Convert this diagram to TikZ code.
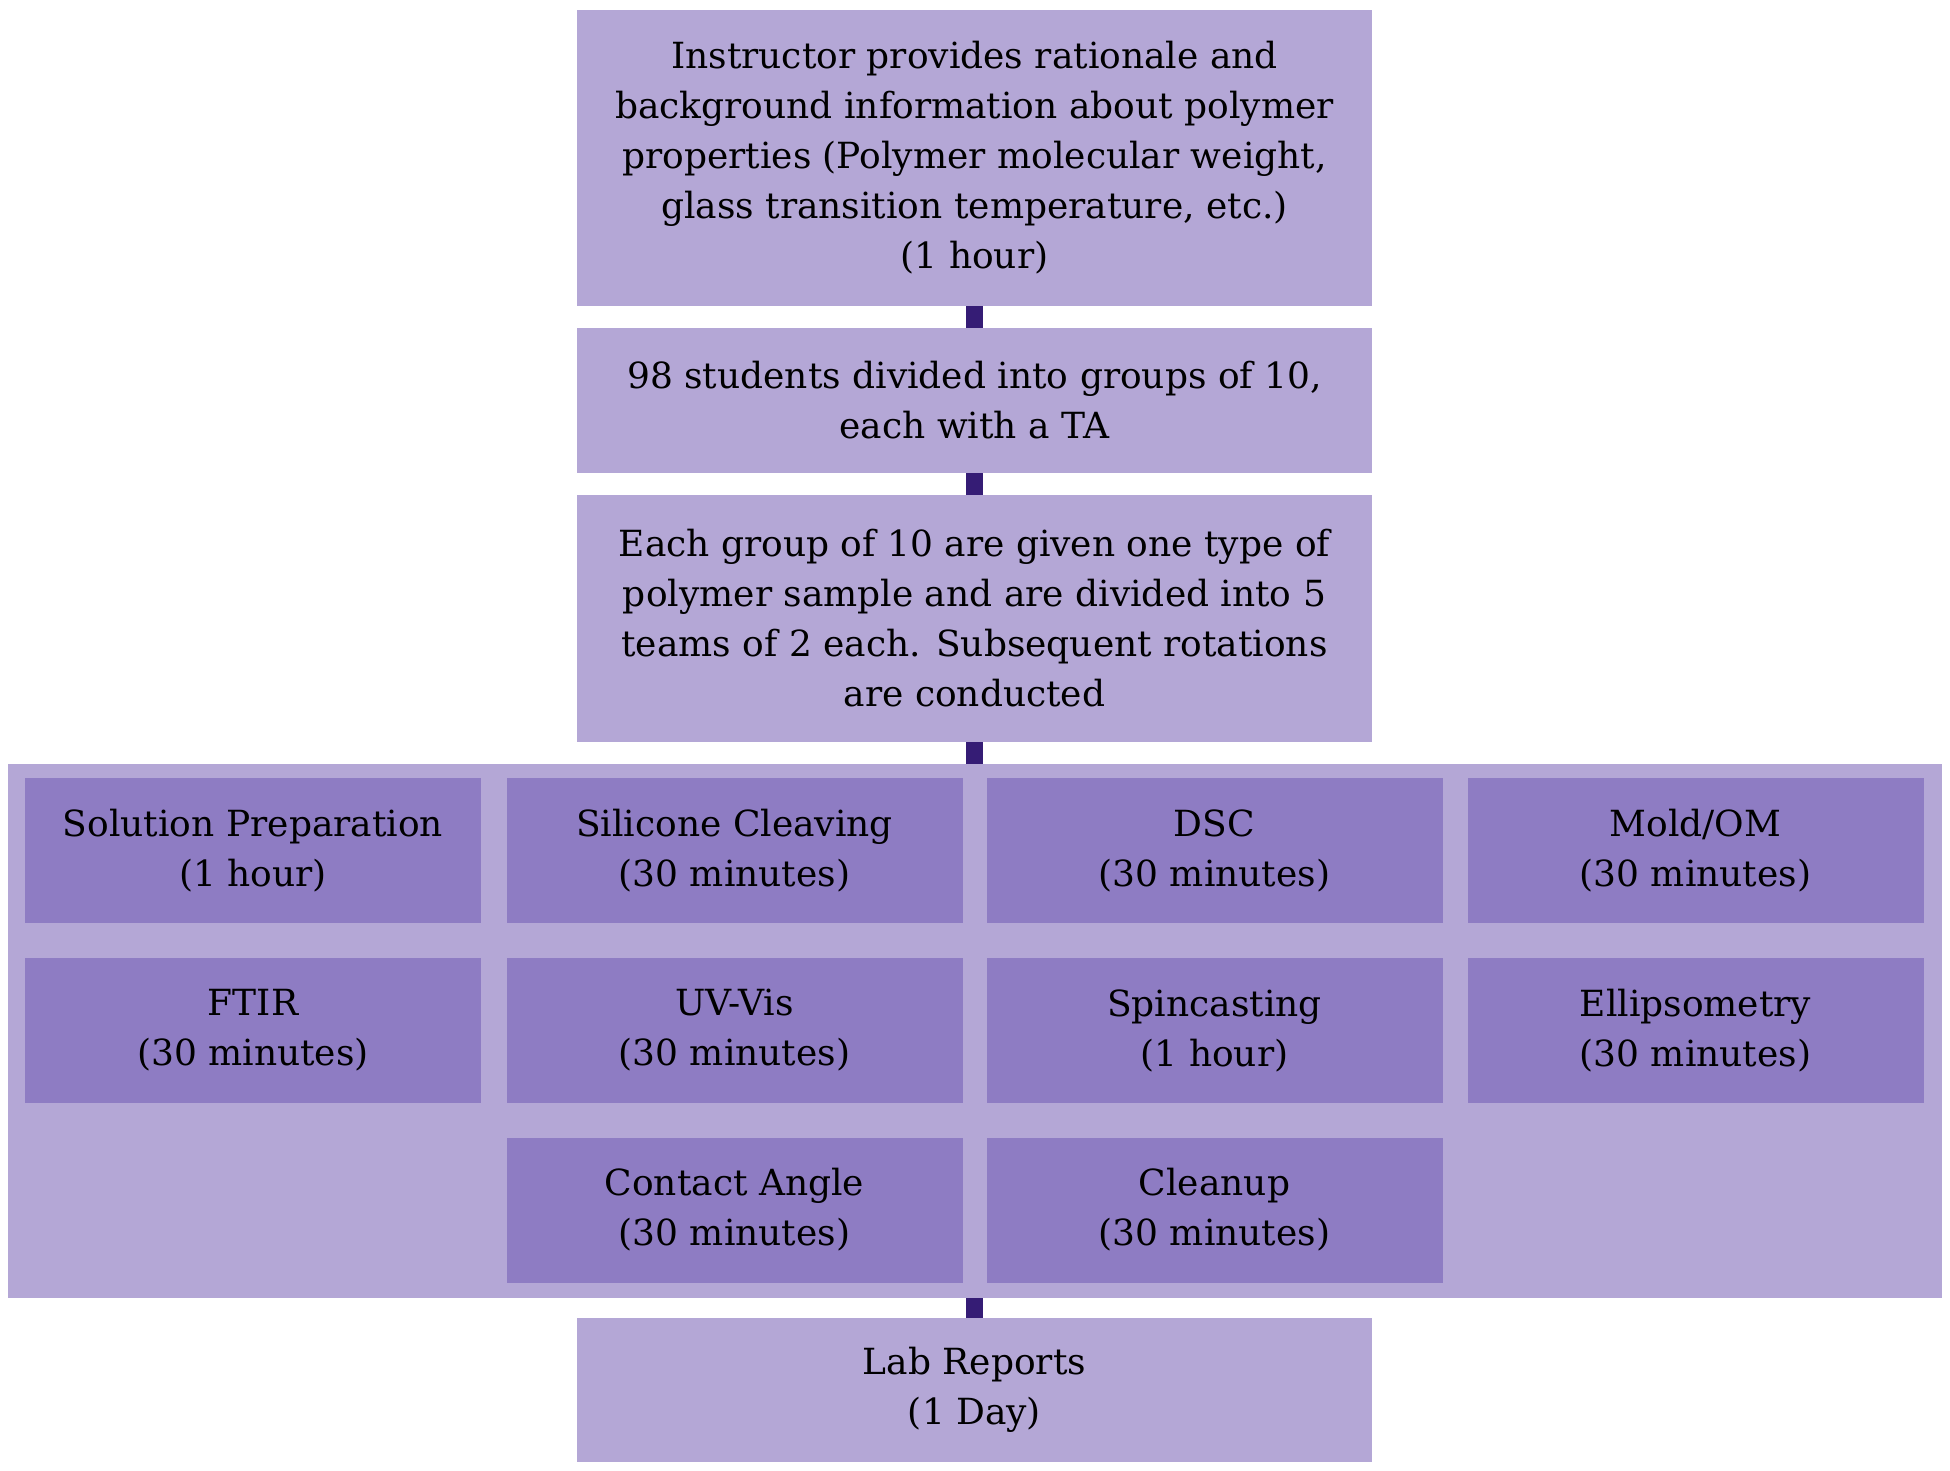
\documentclass[tikz,border=0pt]{standalone}
\usepackage{fontspec}
\setmainfont{DejaVu Serif}
\definecolor{lightp}{HTML}{B4A7D6}
\definecolor{darkp}{HTML}{8E7CC3}
\definecolor{linkp}{HTML}{351C75}
\begin{document}
\begin{tikzpicture}[x=1pt,y=-1pt,
  txt/.style={font=\fontsize{36}{50}\selectfont, align=center, inner sep=0pt, text=black},
  mainbox/.style={txt, fill=lightp, minimum width=795pt, anchor=center},
  cellbox/.style={txt, fill=darkp, minimum width=456pt, minimum height=145pt, anchor=center},
  link/.style={draw=linkp, line width=17pt}]
\useasboundingbox (0,0) rectangle (1950,1471);
\node[fill=lightp, minimum width=1934pt, minimum height=534pt, inner sep=0pt] (grp) at (974.75,1031) {};
\node[mainbox, minimum height=296pt] (b1) at (974.5,158) {Instructor provides rationale and\\background information about polymer\\properties (Polymer molecular weight,\\glass transition temperature, etc.)\\(1 hour)};
\node[mainbox, minimum height=145pt] (b2) at (974.5,400.5) {98 students divided into groups of 10,\\each with a TA};
\node[mainbox, minimum height=247pt] (b3) at (974.5,618.5) {Each group of 10 are given one type of\\polymer sample and are divided into 5\\teams of 2 each. Subsequent rotations\\are conducted};
\node[mainbox, minimum height=144pt] (lab) at (974.5,1390) {Lab Reports\\(1 Day)};
\node[cellbox] (c11) at (253,850.5) {Solution Preparation\\(1 hour)};
\node[cellbox] (c12) at (734.5,850.5) {Silicone Cleaving\\(30 minutes)};
\node[cellbox] (c13) at (1214.5,850.5) {DSC\\(30 minutes)};
\node[cellbox] (c14) at (1695.5,850.5) {Mold/OM\\(30 minutes)};
\node[cellbox] (c21) at (253,1030.5) {FTIR\\(30 minutes)};
\node[cellbox] (c22) at (734.5,1030.5) {UV-Vis\\(30 minutes)};
\node[cellbox] (c23) at (1214.5,1030.5) {Spincasting\\(1 hour)};
\node[cellbox] (c24) at (1695.5,1030.5) {Ellipsometry\\(30 minutes)};
\node[cellbox] (c32) at (734.5,1210) {Contact Angle\\(30 minutes)};
\node[cellbox] (c33) at (1214.5,1210) {Cleanup\\(30 minutes)};
\draw[link] (b1.south) -- (b2.north);
\draw[link] (b2.south) -- (b3.north);
\draw[link] (b3.south) -- (b3.south |- grp.north);
\draw[link] (lab.north |- grp.south) -- (lab.north);
\end{tikzpicture}
\end{document}
